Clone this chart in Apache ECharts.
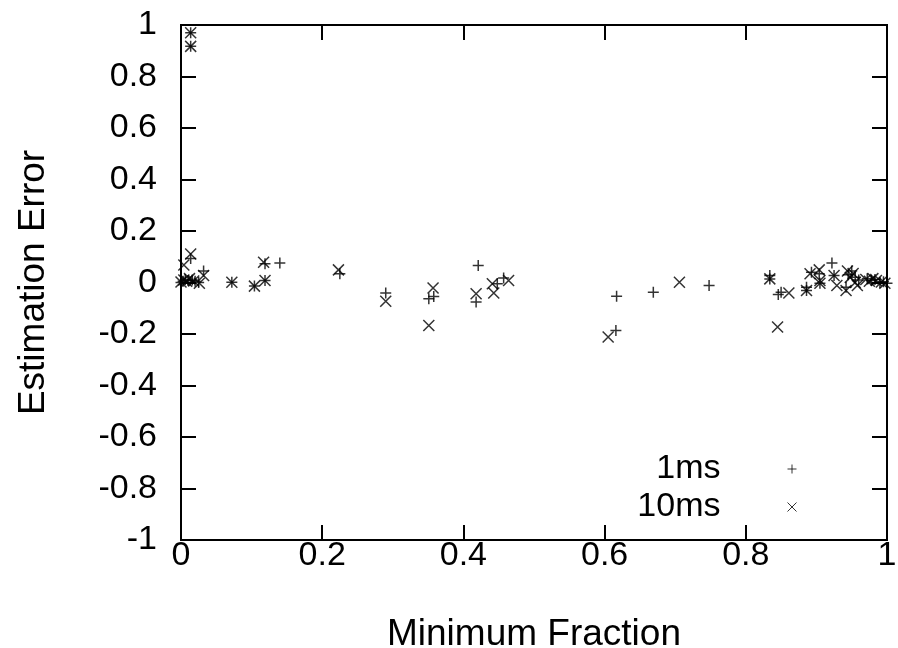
<!DOCTYPE html>
<html>
<head>
<meta charset="utf-8">
<script src="https://cdn.jsdelivr.net/npm/echarts@6/dist/echarts.min.js"></script>
<style>html,body{margin:0;padding:0;background:#fff;}#c{width:898px;height:648px;}</style>
</head>
<body>
<div id="c"></div>
<script>
const seriesNames = ['1ms', '10ms'];
const xTicks = [0, 0.2, 0.4, 0.6, 0.8, 1];
const yTicks = [-1, -0.8, -0.6, -0.4, -0.2, 0, 0.2, 0.4, 0.6, 0.8, 1];

const data1ms = [
  [0.0137,0.97],[0.0137,0.917],[0.0137,0.093],[0.032,0.045],[0.0,0.0],[0.003,0.005],[0.006,0.012],
  [0.01,0.008],[0.016,0.01],[0.02,0.005],[0.025,0.0],[0.072,0.001],[0.104,-0.014],[0.119,0.008],
  [0.119,0.073],[0.140,0.076],[0.225,0.034],[0.290,-0.041],[0.351,-0.063],[0.358,-0.054],
  [0.421,0.066],[0.418,-0.076],[0.448,-0.005],[0.457,0.017],[0.616,-0.186],[0.617,-0.053],
  [0.669,-0.038],[0.748,-0.012],[0.834,0.027],[0.834,0.014],[0.846,-0.047],[0.850,-0.038],
  [0.886,-0.018],[0.886,-0.031],[0.893,0.040],[0.904,0.034],[0.905,-0.003],[0.922,0.076],
  [0.925,0.027],[0.942,-0.018],[0.945,0.03],[0.95,0.045],[0.955,0.02],[0.96,0.01],[0.972,0.015],
  [0.978,0.008],[0.983,0.012],[0.99,0.0],[0.995,0.003],[1.0,-0.003]
];
const data10ms = [
  [0.0137,0.97],[0.0137,0.917],[0.0137,0.111],[0.004,0.068],[0.032,0.027],[0.026,-0.003],
  [0.0,0.002],[0.004,0.01],[0.008,0.005],[0.012,0.015],[0.018,0.006],[0.072,0.001],[0.104,-0.014],
  [0.119,0.008],[0.117,0.079],[0.223,0.049],[0.290,-0.073],[0.357,-0.021],[0.351,-0.167],
  [0.418,-0.044],[0.441,-0.005],[0.443,-0.041],[0.464,0.008],[0.605,-0.212],[0.706,0.001],
  [0.834,0.014],[0.845,-0.173],[0.861,-0.041],[0.886,-0.031],[0.891,0.034],[0.904,0.049],
  [0.905,0.008],[0.905,-0.003],[0.925,0.027],[0.929,-0.012],[0.942,-0.031],[0.944,0.045],
  [0.948,0.02],[0.952,0.035],[0.955,0.0],[0.958,-0.012],[0.97,0.012],[0.975,0.005],[0.98,0.015],
  [0.985,0.008],[0.992,0.002],[0.997,-0.003]
];

const plusPath = 'path://M0,5L10,5M5,0L5,10';
const crossPath = 'path://M0,0L10,10M10,0L0,10';
const font = 'Liberation Sans, Arial, sans-serif';
const fs = 34;

const chart = echarts.init(document.getElementById('c'), null, {renderer: 'canvas'});
const fmt = v => String(Math.round(v * 10) / 10);
const baseAxis = {
  axisLine: {show: true, onZero: false, lineStyle: {color: '#000', width: 2}},
  axisTick: {show: true, inside: true, length: 15, lineStyle: {color: '#000', width: 2}},
  splitLine: {show: false}
};
chart.setOption({
  animation: false,
  backgroundColor: '#fff',
  grid: {left: 181, right: 11, top: 25, bottom: 108, show: true, borderColor: '#000', borderWidth: 2,
         containLabel: false, outerBoundsMode: 'none'},
  xAxis: [Object.assign({}, baseAxis, {
    type: 'value', min: xTicks[0], max: xTicks[xTicks.length - 1], interval: 0.2,
    name: 'Minimum Fraction', nameLocation: 'middle', nameGap: 76,
    nameTextStyle: {fontFamily: font, fontSize: 37, color: '#000'},
    axisLabel: {margin: -1, fontFamily: font, fontSize: fs, color: '#000', formatter: fmt}
  }), Object.assign({}, baseAxis, {
    type: 'value', position: 'top', min: 0, max: 1, interval: 0.2, axisLabel: {show: false}
  })],
  yAxis: [Object.assign({}, baseAxis, {
    type: 'value', min: yTicks[0], max: yTicks[yTicks.length - 1], interval: 0.2,
    name: 'Estimation Error', nameLocation: 'middle', nameGap: 129, nameRotate: 90,
    nameTextStyle: {fontFamily: font, fontSize: 37, color: '#000'},
    axisLabel: {margin: 24, fontFamily: font, fontSize: fs, color: '#000', formatter: fmt}
  }), Object.assign({}, baseAxis, {
    type: 'value', position: 'right', min: -1, max: 1, interval: 0.2, axisLabel: {show: false}
  })],
  legend: {
    orient: 'vertical', right: 96, top: 447, align: 'right', itemGap: 4,
    itemWidth: 9, itemHeight: 9,
    textStyle: {fontFamily: font, fontSize: fs, lineHeight: 30, color: '#000', padding: [0, 62, 0, 0]},
    data: [
      {name: seriesNames[0], icon: plusPath, itemStyle: {color: 'transparent', borderColor: '#000', borderWidth: 1}},
      {name: seriesNames[1], icon: crossPath, itemStyle: {color: 'transparent', borderColor: '#000', borderWidth: 1}}
    ]
  },
  series: [
    {name: seriesNames[0], type: 'scatter', data: data1ms, symbol: plusPath, symbolSize: 11,
     itemStyle: {color: 'transparent', borderColor: '#000', borderWidth: 1.5}},
    {name: seriesNames[1], type: 'scatter', data: data10ms, symbol: crossPath, symbolSize: 11,
     itemStyle: {color: 'transparent', borderColor: '#000', borderWidth: 1.5}}
  ]
});
</script>
</body>
</html>
